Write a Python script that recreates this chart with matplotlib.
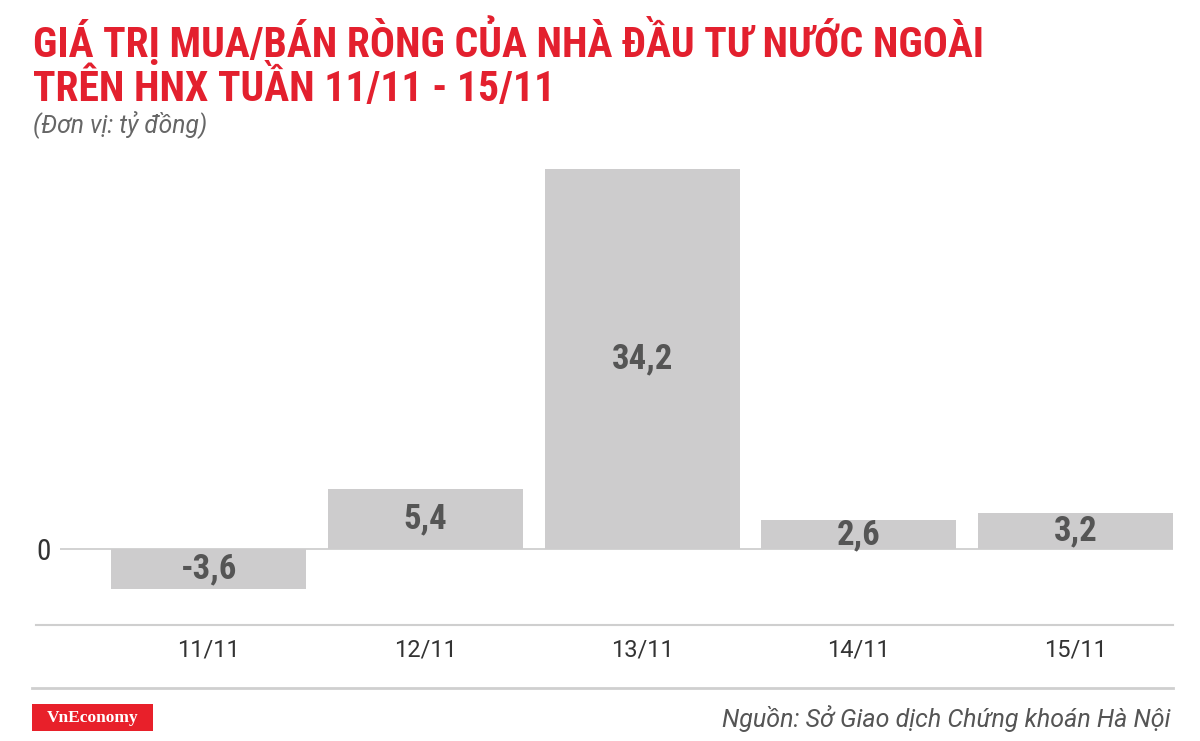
import matplotlib
matplotlib.use("Agg")
import matplotlib.pyplot as plt
from matplotlib import font_manager
from matplotlib.lines import Line2D
from matplotlib.patches import Rectangle

# ---- data ----
categories = ["11/11", "12/11", "13/11", "14/11", "15/11"]
values = [-3.6, 5.4, 34.2, 2.6, 3.2]
value_labels = ["-3,6", "5,4", "34,2", "2,6", "3,2"]
title_lines = ["GIÁ TRỊ MUA/BÁN RÒNG CỦA NHÀ ĐẦU TƯ NƯỚC NGOÀI",
               "TRÊN HNX TUẦN 11/11 - 15/11"]
subtitle = "(Đơn vị: tỷ đồng)"
source = "Nguồn: Sở Giao dịch Chứng khoán Hà Nội"
brand = "VnEconomy"

avail = {f.name for f in font_manager.fontManager.ttflist}
cond = None
for cand in ["Roboto Condensed", "Liberation Sans Narrow", "Roboto"]:
    if cand in avail:
        cond = cand
        break
COND = [cond, "DejaVu Sans"]
REG = ["Roboto", "DejaVu Sans"]
plt.rcParams["font.family"] = COND

W, H = 1200, 741
fig = plt.figure(figsize=(W / 100, H / 100), dpi=100)
fig.patch.set_facecolor("white")

def fx(px):
    return px / W

def fy(py):
    return 1 - py / H

RED = "#E3202E"
BAR = "#CDCCCD"
LINE = "#CFCFCF"

# axes
ax_left, ax_right, ax_top, ax_bottom = 60, 1173, 160, 600
ax = fig.add_axes([fx(ax_left), fy(ax_bottom), (ax_right - ax_left) / W, (ax_bottom - ax_top) / H])
x = list(range(len(categories)))
ax.bar(x, values, width=0.9, color=BAR, zorder=2)
ax.axhline(0, color=LINE, lw=1.3, zorder=1)
ax.set_xlim(-0.686, 4.45)
ax.set_ylim(-4.59, 35.01)
for s in ax.spines.values():
    s.set_visible(False)
ax.set_xticks(x)
ax.set_xticklabels(categories, fontsize=17, color="#333333", family=REG)
ax.set_yticks([0])
ax.set_yticklabels(["0"], fontsize=21, color="#333333")
ax.tick_params(axis="x", length=0, pad=28)
ax.tick_params(axis="y", length=0, pad=7)

for xi, v, lab in zip(x, values, value_labels):
    ax.text(xi, v / 2, lab, ha="center", va="center", fontsize=25,
            fontweight="bold", color="#555555", zorder=3)

# separator lines
fig.add_artist(Line2D([fx(36), fx(1173)], [fy(625), fy(625)], color=LINE, lw=1.5))
fig.add_artist(Line2D([fx(32), fx(1173)], [fy(688), fy(688)], color=LINE, lw=2))

# titles
fig.text(fx(33), fy(57), title_lines[0], fontsize=30, fontweight="bold",
         color=RED, va="baseline", ha="left")
fig.text(fx(33), fy(101), title_lines[1], fontsize=30, fontweight="bold",
         color=RED, va="baseline", ha="left")
fig.text(fx(33), fy(132), subtitle, fontsize=17.7, style="italic", family=REG,
         color="#666666", va="baseline", ha="left")

# source
fig.text(fx(1170), fy(727), source, fontsize=18, style="italic", family=REG,
         color="#555555", va="baseline", ha="right")

# brand box
fig.add_artist(Rectangle((fx(32), fy(731)), fx(121), (731 - 704) / H,
                         facecolor="#E8202A", edgecolor="none", transform=fig.transFigure))
fig.text(fx(92.5), fy(717.5), brand, fontsize=12.5, fontweight="bold",
         family=["Liberation Serif", "DejaVu Serif"], color="white",
         ha="center", va="center")

fig.savefig("out.png", dpi=100, facecolor="white")
